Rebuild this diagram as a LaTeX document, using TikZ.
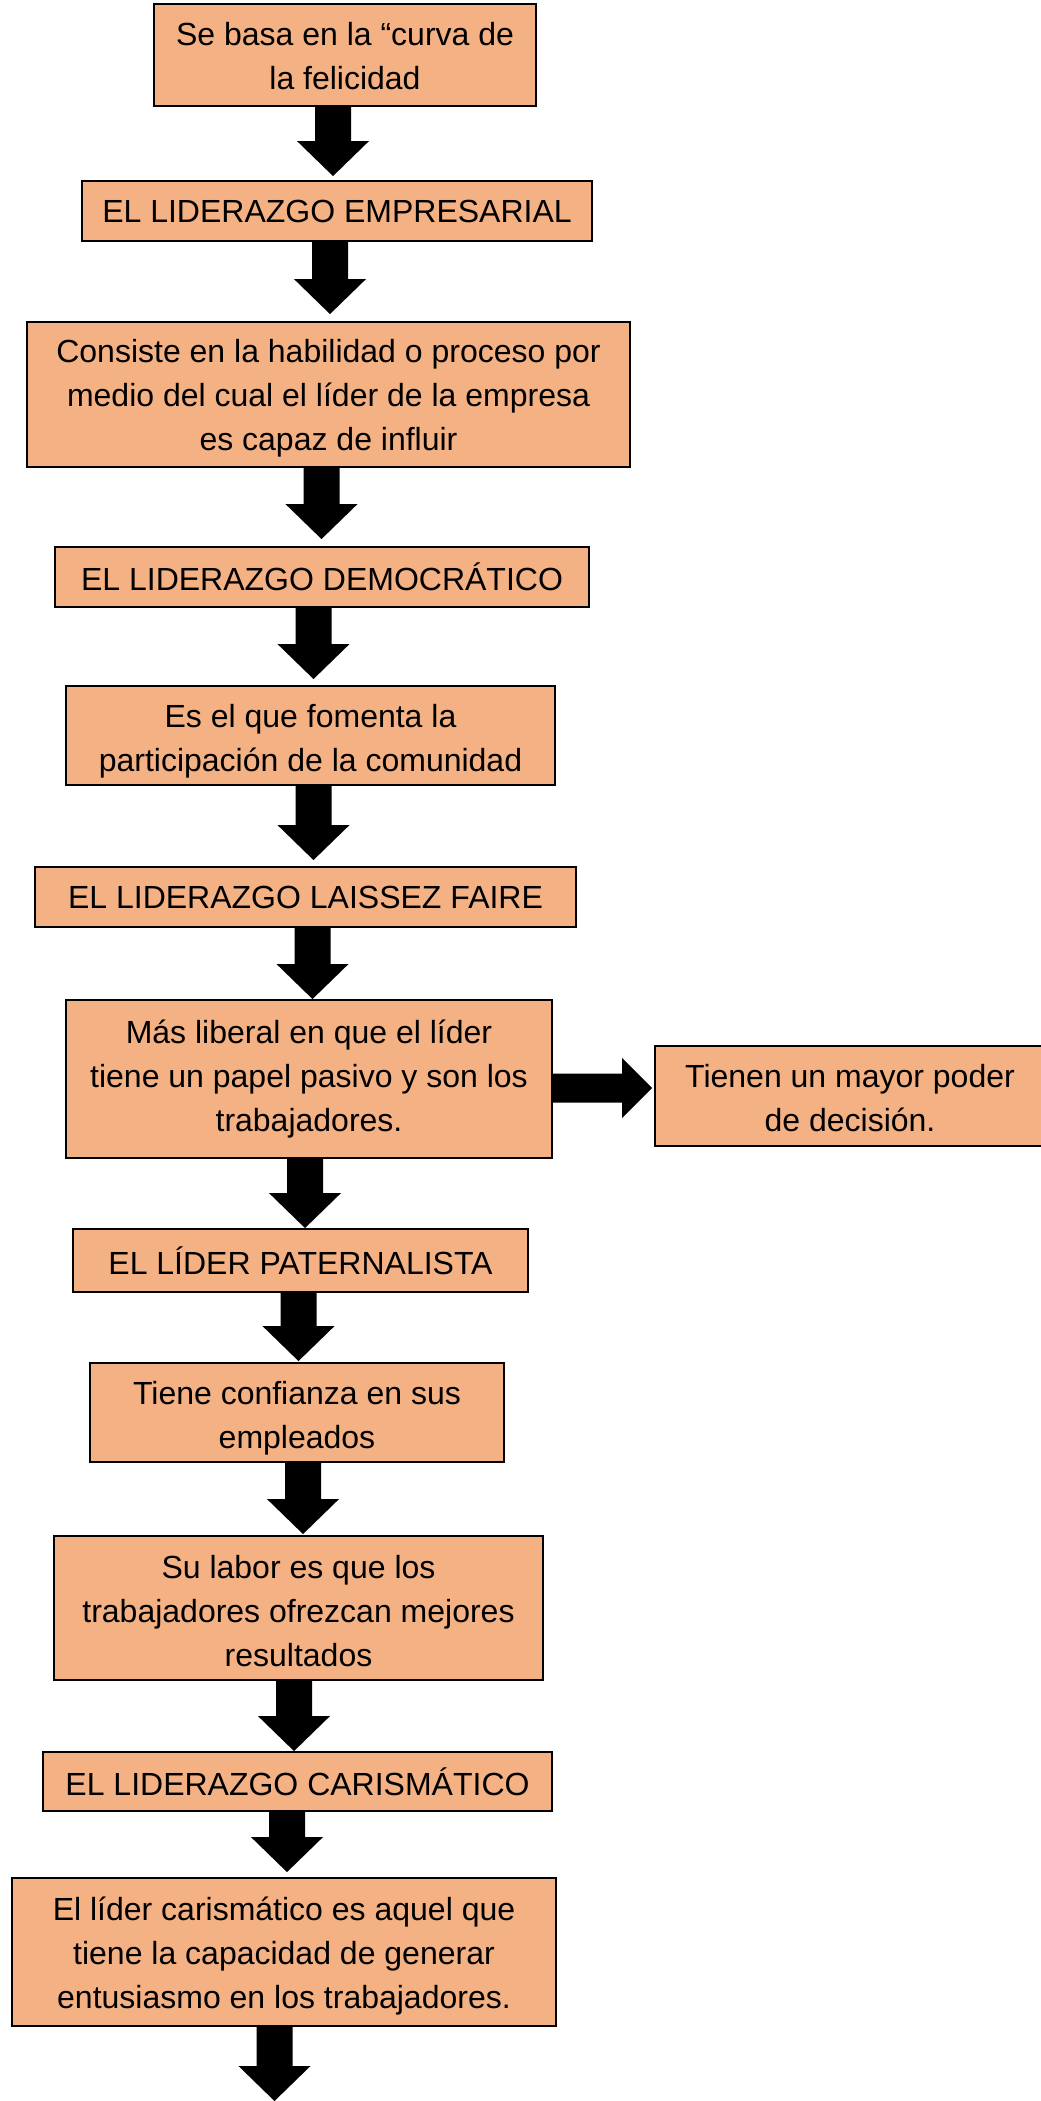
\documentclass[tikz,border=0pt]{standalone}
\usepackage{fontspec}
\setmainfont{Liberation Sans}
\usetikzlibrary{calc}
\definecolor{boxfill}{HTML}{F4B183}
\tikzset{
  box/.style={draw=black, line width=1.4pt, fill=boxfill, inner sep=0pt, align=center,
    font=\fontsize{24}{33}\selectfont},
  txt/.style={inner sep=0pt, align=center, font=\fontsize{24}{33}\selectfont},
  downarrow/.style={fill=black, to path={let \p1=(\tikztostart), \p2=(\tikztotarget) in
    (\x1-13.5pt,\y1) -- (\x1-13.5pt,\y2+#1+26.25pt) -- (\x1-27pt,\y2+#1+26.25pt) -- (\x1,\y2+#1)
    -- (\x1+27pt,\y2+#1+26.25pt) -- (\x1+13.5pt,\y2+#1+26.25pt) -- (\x1+13.5pt,\y1) -- cycle}},
  downarrow/.default=0pt,
  rightarrowshape/.style={fill=black, to path={let \p1=(\tikztostart), \p2=(\tikztotarget) in
    (\x1,\y1+10.875pt) -- (\x2-#1-22.5pt,\y1+10.875pt) -- (\x2-#1-22.5pt,\y1+22.5pt) -- (\x2-#1,\y1)
    -- (\x2-#1-22.5pt,\y1-22.5pt) -- (\x2-#1-22.5pt,\y1-10.875pt) -- (\x1,\y1-10.875pt) -- cycle}},
  rightarrowshape/.default=0pt
}
\begin{document}
\begin{tikzpicture}[x=0.75pt, y=-0.75pt]
\useasboundingbox (0,0) rectangle (1040,2101);
\fill[white] (0,0) rectangle (1040,2101);

\node[box, minimum width=286.5pt, minimum height=76.5pt] (b1) at (345,55) {};
\node[txt] (t1) at ([yshift=-1pt]b1.center) {Se basa en la “curva de\\la felicidad};
\node[box, minimum width=382.5pt, minimum height=45pt] (b2) at (337,211) {EL LIDERAZGO EMPRESARIAL};
\node[box, minimum width=452.25pt, minimum height=108.75pt] (b3) at (328.5,394.5) {};
\node[txt] (t3) at ([yshift=-3pt]b3.center) {Consiste en la habilidad o proceso por\\medio del cual el líder de la empresa\\es capaz de influir};
\node[box, minimum width=400.5pt, minimum height=45pt] (b4) at (322,577) {EL LIDERAZGO DEMOCRÁTICO};
\node[box, minimum width=366.75pt, minimum height=74.25pt] (b5) at (310.5,735.5) {};
\node[txt] (t5) at ([yshift=-4.5pt]b5.center) {Es el que fomenta la\\participación de la comunidad};
\node[box, minimum width=405.75pt, minimum height=45pt] (b6) at (305.5,897) {EL LIDERAZGO LAISSEZ FAIRE};
\node[box, minimum width=364.5pt, minimum height=118.5pt] (b7) at (309,1079) {Más liberal en que el líder\\tiene un papel pasivo y son los\\trabajadores.};
\node[box, minimum width=292.5pt, minimum height=75pt] (b8) at (850,1096) {};
\node[txt] (t8) at ([yshift=-1.5pt]b8.center) {Tienen un mayor poder\\de decisión.};
\node[box, minimum width=341.25pt, minimum height=47.25pt] (b9) at (300.5,1260.5) {EL LÍDER PATERNALISTA};
\node[box, minimum width=310.5pt, minimum height=74.25pt] (b10) at (297,1412.5) {};
\node[txt] (t10) at ([yshift=-4.5pt]b10.center) {Tiene confianza en sus\\empleados};
\node[box, minimum width=366.75pt, minimum height=108pt] (b11) at (298.5,1608) {};
\node[txt] (t11) at ([yshift=-2.5pt]b11.center) {Su labor es que los\\trabajadores ofrezcan mejores\\resultados};
\node[box, minimum width=381.75pt, minimum height=44.25pt] (b12) at (297.5,1781.5) {EL LIDERAZGO CARISMÁTICO};
\node[box, minimum width=408pt, minimum height=111pt] (b13) at (284,1952) {};
\node[txt] (t13) at ([yshift=-3pt]b13.center) {El líder carismático es aquel que\\tiene la capacidad de generar\\entusiasmo en los trabajadores.};

\coordinate (a1) at (333,0);
\coordinate (a2) at (330,0);
\coordinate (a3) at (321.5,0);
\coordinate (a4) at (313.5,0);
\coordinate (a5) at (313.5,0);
\coordinate (a6) at (312.5,0);
\coordinate (a7) at (305,0);
\coordinate (a8) at (298.5,0);
\coordinate (a9) at (303,0);
\coordinate (a10) at (294,0);
\coordinate (a11) at (287,0);
\coordinate (a12) at (274.5,0);
\coordinate (finalend) at (274.5,2101);
\coordinate (r1) at (0,1088);

\fill[downarrow=3pt] (b1.south -| a1) to (b2.north -| a1);
\fill[downarrow=5.25pt] (b2.south -| a2) to (b3.north -| a2);
\fill[downarrow=5.25pt] (b3.south -| a3) to (b4.north -| a3);
\fill[downarrow=4.5pt] (b4.south -| a4) to (b5.north -| a4);
\fill[downarrow=4.5pt] (b5.south -| a5) to (b6.north -| a5);
\fill[downarrow] (b6.south -| a6) to (b7.north -| a6);
\fill[downarrow] (b7.south -| a7) to (b9.north -| a7);
\fill[downarrow=0.75pt] (b9.south -| a8) to (b10.north -| a8);
\fill[downarrow=0.75pt] (b10.south -| a9) to (b11.north -| a9);
\fill[downarrow] (b11.south -| a10) to (b12.north -| a10);
\fill[downarrow=3.75pt] (b12.south -| a11) to (b13.north -| a11);
\fill[downarrow] (b13.south -| a12) to (finalend);
\fill[rightarrowshape=1.5pt] (b7.east |- r1) to (b8.west |- r1);
\end{tikzpicture}
\end{document}
